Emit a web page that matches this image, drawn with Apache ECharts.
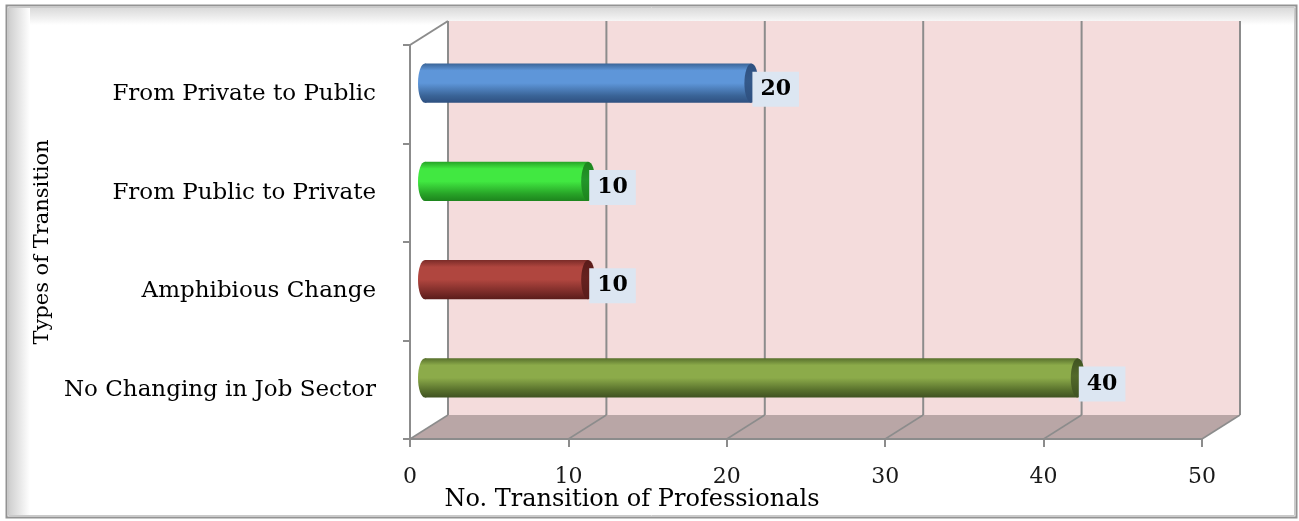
<!DOCTYPE html>
<html>
<head>
<meta charset="utf-8">
<script src="https://cdn.jsdelivr.net/npm/echarts@6/dist/echarts.min.js"></script>
<style>
  html, body { margin: 0; padding: 0; background: #ffffff; }
  #chart { width: 1299px; height: 521px; }
</style>
</head>
<body>
<div id="chart"></div>
<script>
// Job-sector transitions of professionals
const categories = [
  'From Private to Public',
  'From Public to Private',
  'Amphibious Change',
  'No Changing in Job Sector'
];
const values = [20, 10, 10, 40];
const axisMin = 0;
const axisMax = 50;
const axisStep = 10;
const axisTicks = [0, 10, 20, 30, 40, 50];

// cylinder shading per bar: [top edge, highlight, bottom edge, end cap]
const barShades = [
  ['#3A6497', '#5E96D9', '#2E5080', '#34598A'],
  ['#27A327', '#41E841', '#1D841D', '#23962A'],
  ['#7A2B28', '#B0463F', '#5A1C1A', '#66211F'],
  ['#576F2C', '#8CAB4A', '#3F5221', '#52692A']
];

const FONT = '"DejaVu Serif", "Liberation Serif", serif';
const GRID_LINE = '#8C8C8C';
const WALL_FILL = '#F4DCDC';
const FLOOR_FILL = '#B9A6A6';
const DEPTH = [38, -24];          // offset from front plane to back wall

const chart = echarts.init(document.getElementById('chart'));

// back wall, floor and receding grid lines of the 3-D box
function renderBox(params, api) {
  const cs = params.coordSys;
  const dx = DEPTH[0], dy = DEPTH[1];
  const x0 = cs.x, x1 = cs.x + cs.width;
  const yT = cs.y, yB = cs.y + cs.height;
  const kids = [];
  kids.push({
    type: 'rect',
    shape: { x: x0 + dx, y: yT + dy, width: cs.width, height: cs.height },
    style: { fill: WALL_FILL }
  });
  kids.push({
    type: 'polygon',
    shape: { points: [[x0, yB], [x1, yB], [x1 + dx, yB + dy], [x0 + dx, yB + dy]] },
    style: { fill: FLOOR_FILL }
  });
  axisTicks.forEach(function (t) {
    const x = api.coord([t, 0])[0];
    kids.push({
      type: 'line',
      shape: { x1: x + dx, y1: yT + dy, x2: x + dx, y2: yB + dy },
      style: { stroke: GRID_LINE, lineWidth: 2 }
    });
    kids.push({
      type: 'line',
      shape: { x1: x, y1: yB, x2: x + dx, y2: yB + dy },
      style: { stroke: GRID_LINE, lineWidth: 1.5 }
    });
  });
  kids.push({
    type: 'line',
    shape: { x1: x0, y1: yT, x2: x0 + dx, y2: yT + dy },
    style: { stroke: GRID_LINE, lineWidth: 2 }
  });
  return { type: 'group', children: kids };
}

// one shaded cylinder with its value tag
function renderBar(params, api) {
  const v = api.value(0);
  const cat = api.value(1);
  const s = api.coord([axisMin, cat]);
  const e = api.coord([v, cat]);
  const h = api.size([0, 1])[1] * 0.4;
  const r = h / 2;
  const rx = 7;
  const c = barShades[params.dataIndex];
  const body = new echarts.graphic.LinearGradient(0, 0, 0, 1, [
    { offset: 0, color: c[0] },
    { offset: 0.18, color: c[1] },
    { offset: 0.5, color: c[1] },
    { offset: 0.82, color: c[0] },
    { offset: 1, color: c[2] }
  ]);
  const cap = new echarts.graphic.LinearGradient(0, 0, 0, 1, [
    { offset: 0, color: c[2] },
    { offset: 0.45, color: c[3] },
    { offset: 1, color: c[2] }
  ]);
  return {
    type: 'group',
    children: [
      { type: 'ellipse', shape: { cx: s[0], cy: s[1], rx: rx, ry: r }, style: { fill: body } },
      { type: 'rect', shape: { x: s[0], y: s[1] - r, width: e[0] - s[0], height: h }, style: { fill: body } },
      { type: 'ellipse', shape: { cx: e[0], cy: e[1], rx: rx, ry: r }, style: { fill: cap } },
      {
        type: 'text',
        x: e[0] + 1,
        y: e[1] + 6,
        z2: 10,
        style: {
          text: String(v),
          font: 'bold 22px ' + FONT,
          fill: '#000000',
          align: 'left',
          verticalAlign: 'middle',
          backgroundColor: '#DCE6F2',
          padding: [7, 8, 6, 8]
        }
      }
    ]
  };
}

const option = {
  animation: false,
  backgroundColor: '#ffffff',
  grid: [
    { left: 410, right: 97, top: 45, bottom: 82 },
    { left: 425, right: 58, top: 34, bottom: 94 }
  ],
  xAxis: [
    {
      type: 'value', gridIndex: 0, min: axisMin, max: axisMax, interval: axisStep,
      z: 5,
      axisLine: { show: true, lineStyle: { color: GRID_LINE, width: 2 } },
      axisTick: { show: true, length: 8, lineStyle: { color: GRID_LINE, width: 2 } },
      axisLabel: { color: '#1a1a1a', fontFamily: FONT, fontSize: 22, margin: 27 },
      splitLine: { show: false }
    },
    {
      type: 'value', gridIndex: 1, min: axisMin, max: axisMax, show: false
    }
  ],
  yAxis: [
    {
      type: 'category', gridIndex: 0, data: categories, inverse: true,
      z: 5,
      name: 'Types of Transition',
      nameLocation: 'middle',
      nameGap: 354,
      nameTextStyle: { color: '#000000', fontFamily: FONT, fontSize: 21 },
      axisLine: { show: true, lineStyle: { color: GRID_LINE, width: 2 } },
      axisTick: { show: true, length: 7, lineStyle: { color: GRID_LINE, width: 2 } },
      axisLabel: { color: '#000000', fontFamily: FONT, fontSize: 23, margin: 34 }
    },
    {
      type: 'category', gridIndex: 1, data: categories, inverse: true, show: false
    }
  ],
  graphic: [
    {
      type: 'rect', z: -10, silent: true,
      shape: { x: 9, y: 8, width: 1287, height: 17 },
      style: {
        fill: new echarts.graphic.LinearGradient(0, 0, 0, 1, [
          { offset: 0, color: '#dadada' }, { offset: 1, color: '#ffffff' }
        ])
      }
    },
    {
      type: 'rect', z: -10, silent: true,
      shape: { x: 9, y: 8, width: 21, height: 508 },
      style: {
        fill: new echarts.graphic.LinearGradient(0, 0, 1, 0, [
          { offset: 0, color: '#cfcfcf' }, { offset: 1, color: '#ffffff' }
        ])
      }
    },
    {
      type: 'rect', z: -9, silent: true,
      shape: { x: 6.5, y: 5.5, width: 1290, height: 512 },
      style: { fill: 'none', stroke: '#939393', lineWidth: 2 }
    },
    {
      type: 'rect', z: -9, silent: true,
      shape: { x: 8.5, y: 7.5, width: 1286, height: 508 },
      style: { fill: 'none', stroke: '#cacaca', lineWidth: 1 }
    },
    {
      type: 'text', silent: true,
      x: 632, y: 500,
      style: {
        text: 'No. Transition of Professionals',
        font: '24px ' + FONT,
        fill: '#000000',
        align: 'center',
        verticalAlign: 'middle'
      }
    }
  ],
  series: [
    {
      type: 'custom',
      name: 'box',
      xAxisIndex: 0, yAxisIndex: 0,
      z: 1,
      clip: false,
      silent: true,
      data: [[0, 0]],
      renderItem: renderBox
    },
    {
      type: 'custom',
      name: 'Transitions',
      xAxisIndex: 1, yAxisIndex: 1,
      z: 3,
      clip: false,
      data: values.map(function (v, i) { return [v, i]; }),
      encode: { x: 0, y: 1 },
      renderItem: renderBar
    }
  ]
};

chart.setOption(option);
</script>
</body>
</html>
